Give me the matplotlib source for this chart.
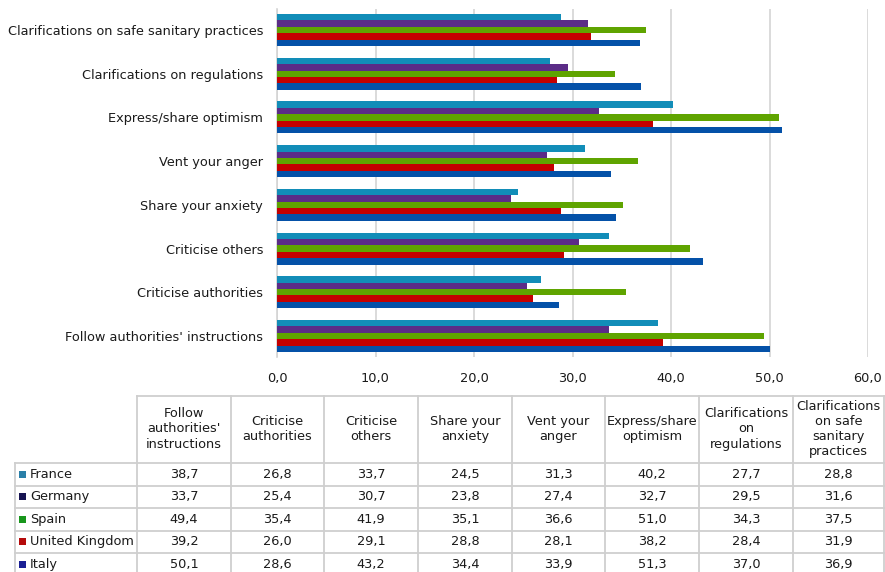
import matplotlib
matplotlib.use("Agg")
import matplotlib.pyplot as plt
from matplotlib.ticker import FuncFormatter
from matplotlib.patches import Rectangle

plt.rcParams['font.family'] = ['DejaVu Sans']

categories = [
    "Follow authorities' instructions",
    "Criticise authorities",
    "Criticise others",
    "Share your anxiety",
    "Vent your anger",
    "Express/share optimism",
    "Clarifications on regulations",
    "Clarifications on safe sanitary practices",
]
table_headers = [
    "Follow\nauthorities'\ninstructions",
    "Criticise\nauthorities",
    "Criticise\nothers",
    "Share your\nanxiety",
    "Vent your\nanger",
    "Express/share\noptimism",
    "Clarifications\non\nregulations",
    "Clarifications\non safe\nsanitary\npractices",
]
countries = ["France", "Germany", "Spain", "United Kingdom", "Italy"]
france = [38.7, 26.8, 33.7, 24.5, 31.3, 40.2, 27.7, 28.8]
germany = [33.7, 25.4, 30.7, 23.8, 27.4, 32.7, 29.5, 31.6]
spain = [49.4, 35.4, 41.9, 35.1, 36.6, 51.0, 34.3, 37.5]
united_kingdom = [39.2, 26.0, 29.1, 28.8, 28.1, 38.2, 28.4, 31.9]
italy = [50.1, 28.6, 43.2, 34.4, 33.9, 51.3, 37.0, 36.9]
x_ticks = [0, 10, 20, 30, 40, 50, 60]

series = [france, germany, spain, united_kingdom, italy]
bar_colors = ["#128db8", "#5b2c87", "#5fa400", "#c40000", "#0451a8"]
key_colors = ["#2a7fa8", "#171452", "#18961c", "#b50a0a", "#1a1f94"]
text_color = "#1a1a1a"
grid_color = "#d4d4d4"
fs = 9.3

W, H = 885, 572
fig = plt.figure(figsize=(W / 100, H / 100), dpi=100)

# bar chart area
left, right, top, bottom = 277, 868, 9, 357
ax = fig.add_axes([left / W, 1 - bottom / H, (right - left) / W, (bottom - top) / H])
bar_h = 0.146
offsets = [2, 1, 0, -1, -2]
for vals, col, off in zip(series, bar_colors, offsets):
    ys = [i + off * bar_h for i in range(len(categories))]
    ax.barh(ys, vals, height=bar_h, color=col, zorder=3)

ax.set_xlim(0, 60)
ax.set_ylim(-0.48, len(categories) - 1 + 0.48)
ax.set_xticks(x_ticks)
ax.xaxis.set_major_formatter(FuncFormatter(lambda v, p: f"{v:.1f}".replace(".", ",")))
ax.set_yticks(range(len(categories)))
ax.set_yticklabels(categories)
ax.tick_params(axis='x', length=0, pad=11, labelsize=fs, labelcolor=text_color)
ax.tick_params(axis='y', length=0, pad=10, labelsize=fs, labelcolor=text_color)
ax.grid(axis='x', color=grid_color, linewidth=1.2, zorder=0)
for s in ['top', 'right', 'bottom']:
    ax.spines[s].set_visible(False)
ax.spines['left'].set_color(grid_color)
ax.spines['left'].set_linewidth(1.2)

# data table drawn in pixel coordinates
tax = fig.add_axes([0, 0, 1, 1])
tax.set_xlim(0, W)
tax.set_ylim(H, 0)
tax.axis('off')

col_edges = [15, 137, 231, 324, 418, 512, 605, 699, 793, 884]
header_top, header_bottom = 396, 463
row_edges = [463, 485.5, 508, 530.5, 553, 575.5]
lc = "#cfcfcf"
lw = 1.3

tax.plot([col_edges[1], col_edges[-1]], [header_top, header_top], color=lc, lw=lw)
for x in col_edges[1:]:
    tax.plot([x, x], [header_top, H + 5], color=lc, lw=lw)
tax.plot([col_edges[0], col_edges[0]], [row_edges[0], H + 5], color=lc, lw=lw)
for y in row_edges:
    tax.plot([col_edges[0], col_edges[-1]], [y, y], color=lc, lw=lw)

for j, hdr in enumerate(table_headers):
    cx = (col_edges[j + 1] + col_edges[j + 2]) / 2
    tax.text(cx, (header_top + header_bottom) / 2 - 0.5, hdr, ha='center', va='center',
             fontsize=fs, color=text_color, linespacing=1.22)

for i, (name, vals) in enumerate(zip(countries, series)):
    cy = (row_edges[i] + row_edges[i + 1]) / 2
    tax.add_patch(Rectangle((19, cy - 3.5), 7, 7, color=key_colors[i], lw=0))
    tax.text(30, cy, name, ha='left', va='center', fontsize=fs, color=text_color)
    for j, v in enumerate(vals):
        cx = (col_edges[j + 1] + col_edges[j + 2]) / 2
        tax.text(cx, cy, f"{v:.1f}".replace(".", ","), ha='center', va='center',
                 fontsize=fs, color=text_color)

fig.savefig("out.png", dpi=100)
